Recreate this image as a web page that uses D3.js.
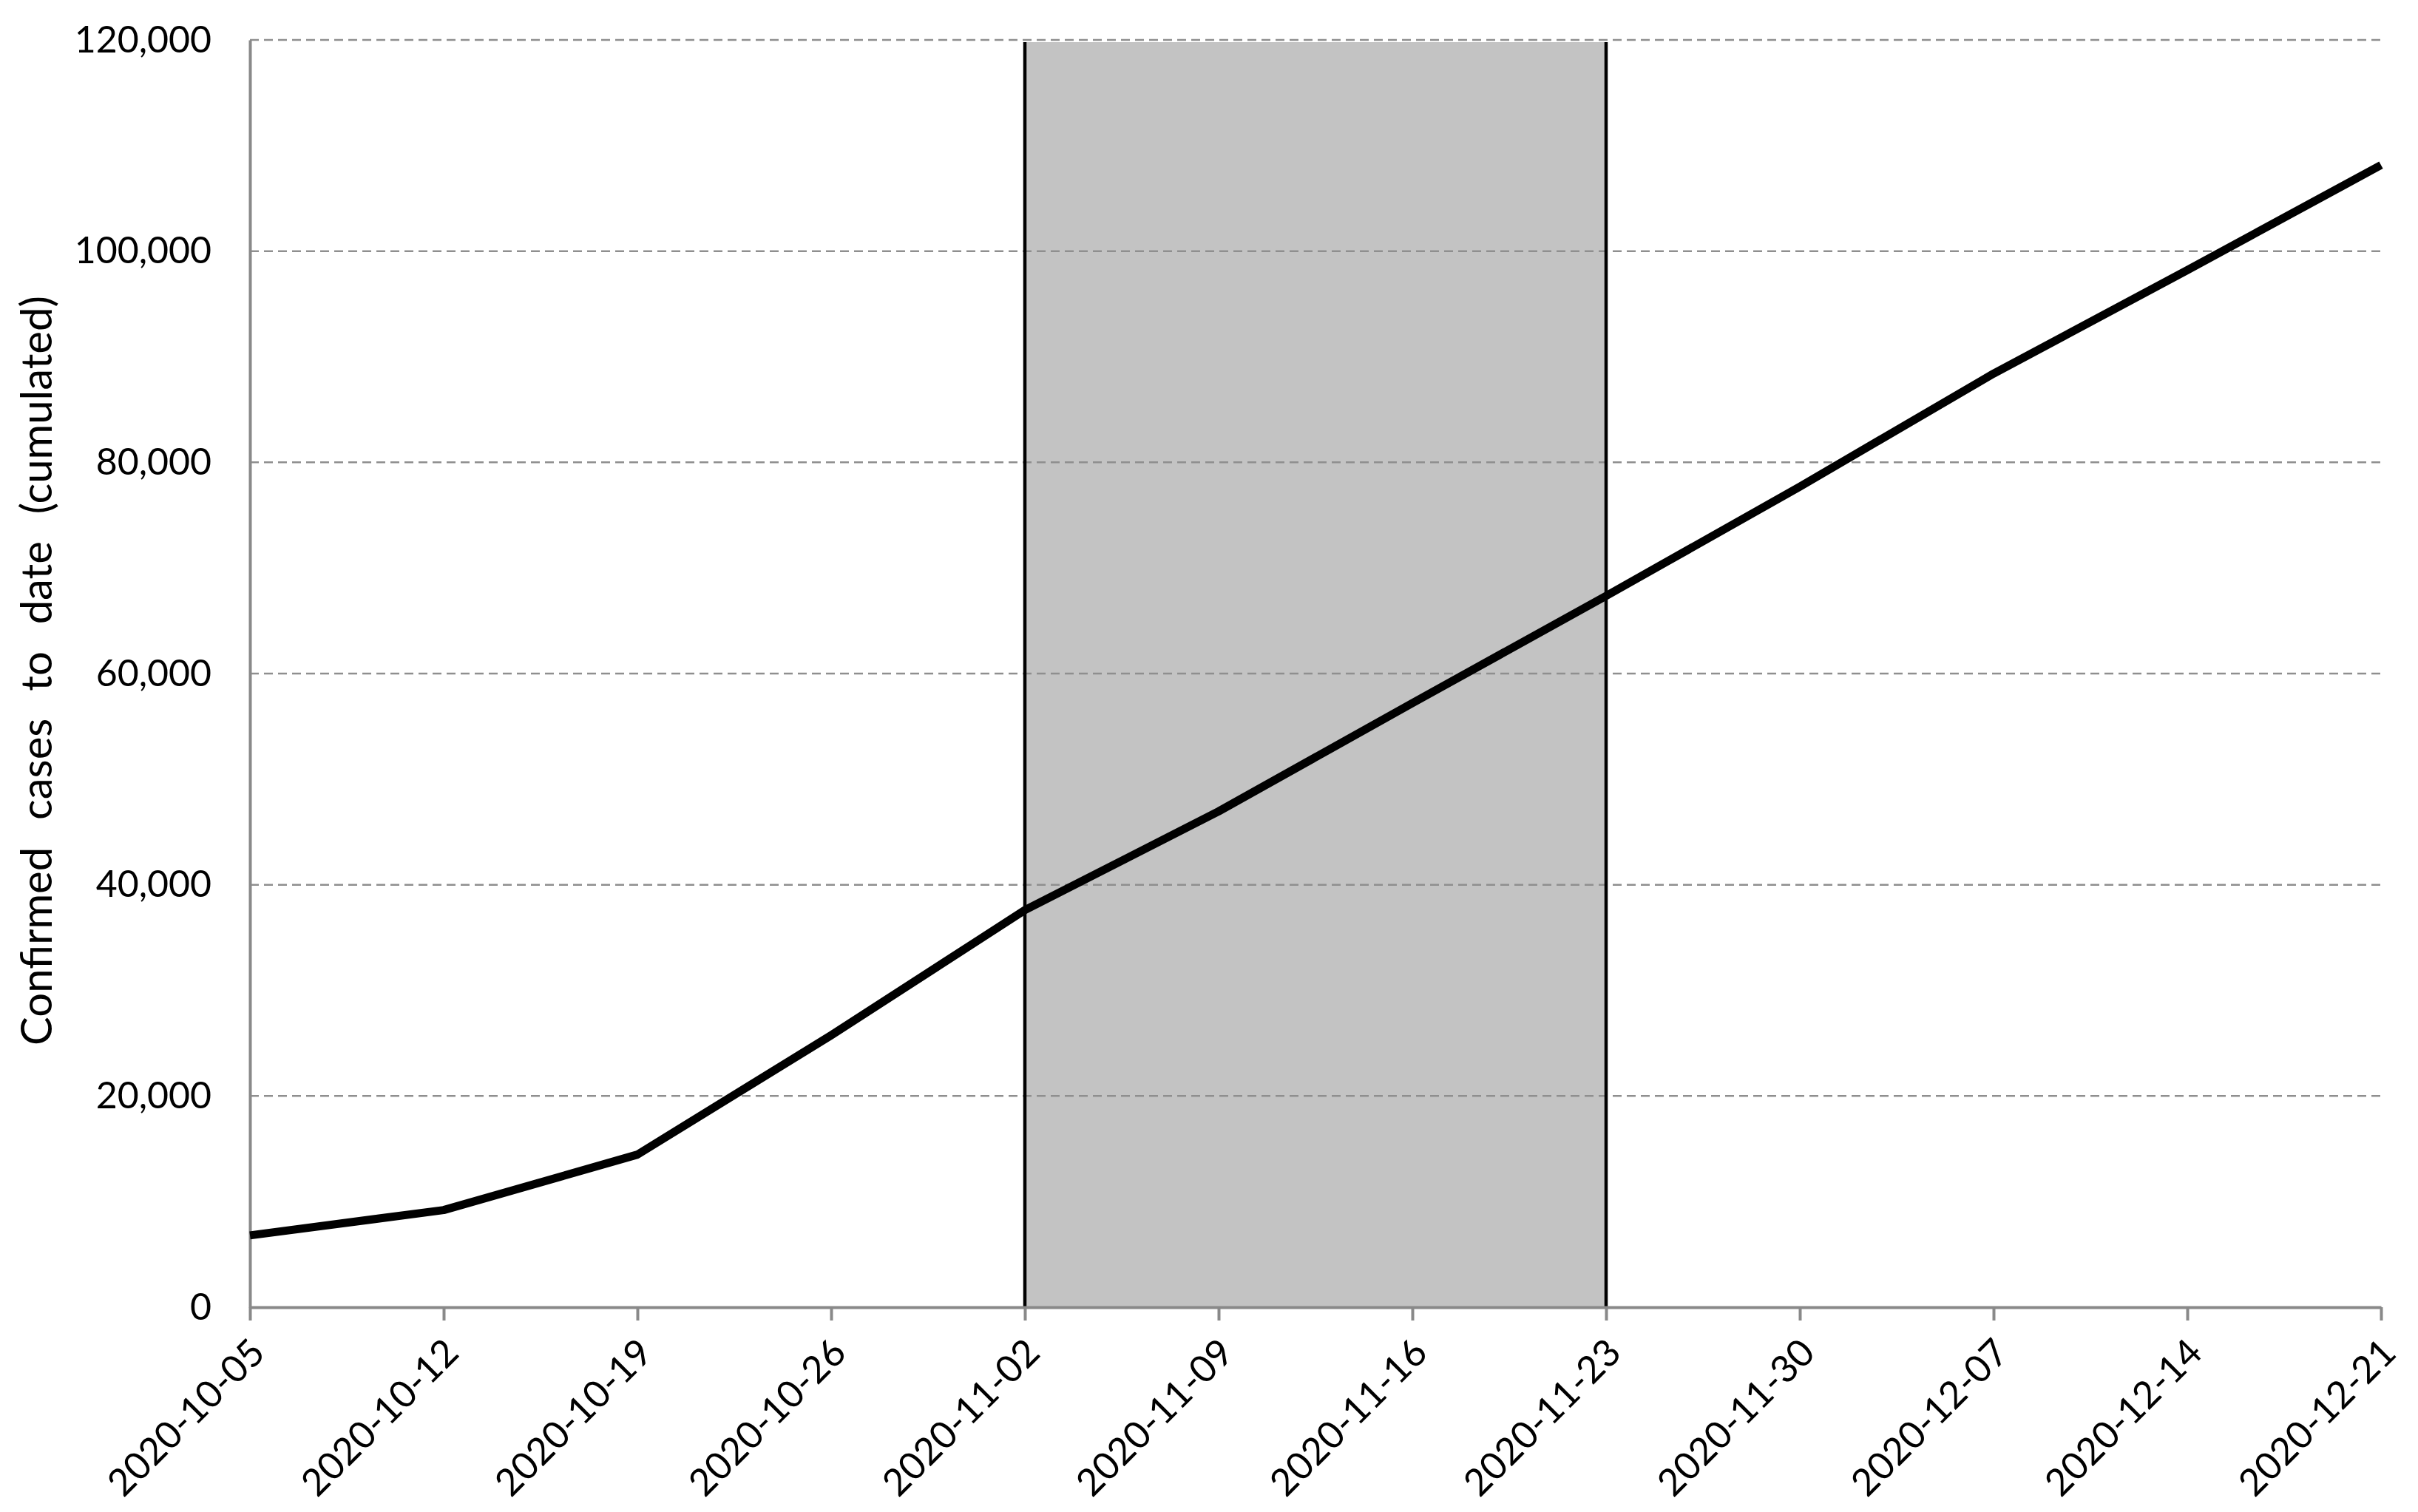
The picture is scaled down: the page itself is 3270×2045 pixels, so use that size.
<!DOCTYPE html>
<html>
<head>
<meta charset="utf-8">
<script src="https://cdn.jsdelivr.net/npm/d3@7"></script>
<style>
  body { margin: 0; background: #fff; }
  text { font-family: Lato, "Open Sans", sans-serif; fill: #000; }
</style>
</head>
<body>
<div id="chart"></div>
<script>
// Data
let dates = ["2020-10-05", "2020-10-12", "2020-10-19", "2020-10-26", "2020-11-02", "2020-11-09",
             "2020-11-16", "2020-11-23", "2020-11-30", "2020-12-07", "2020-12-14", "2020-12-21"];
let cases = [6800, 9200, 14450, 25750, 37600, 46950, 57200, 67350, 77700, 88400, 98200, 108150];
let yTicks = [0, 20000, 40000, 60000, 80000, 100000, 120000];
let shaded = ["2020-11-02", "2020-11-23"];
let yLabel = "Confirmed cases to date (cumulated)";

// Set dimensions
let width = 3270,
    height = 2045,
    margin = {top: 54, right: 50, bottom: 277, left: 338};

let parse = d3.utcParse("%Y-%m-%d");

let svg = d3.select("#chart")
    .append("svg")
        .attr("width", width)
        .attr("height", height);

// Scales
let x = d3.scaleUtc()
    .domain(d3.extent(dates, parse))
    .range([margin.left, width - margin.right]);

let y = d3.scaleLinear()
    .domain([0, 120000])
    .range([height - margin.bottom, margin.top]);

// Shaded period
let x0 = x(parse(shaded[0])), x1 = x(parse(shaded[1]));
svg.append("rect")
    .attr("x", x0)
    .attr("y", y(120000) + 3)
    .attr("width", x1 - x0)
    .attr("height", y(0) - y(120000) - 3)
    .attr("fill", "#c3c3c3");

// Gridlines
svg.append("g")
    .selectAll("line")
    .data(yTicks.filter(d => d > 0))
    .join("line")
        .attr("x1", margin.left)
        .attr("x2", width - margin.right)
        .attr("y1", d => y(d))
        .attr("y2", d => y(d))
        .attr("stroke", "#8f8f8f")
        .attr("stroke-width", 2.5)
        .attr("stroke-dasharray", "12,7");

// Boundaries of the shaded period
svg.append("g")
    .selectAll("line")
    .data(shaded)
    .join("line")
        .attr("x1", d => x(parse(d)))
        .attr("x2", d => x(parse(d)))
        .attr("y1", y(120000) + 3)
        .attr("y2", y(0))
        .attr("stroke", "#000")
        .attr("stroke-width", 4.5);

// Axes
let yAxis = svg.append("g")
    .attr("transform", `translate(${margin.left},0)`)
    .call(d3.axisLeft(y).tickValues(yTicks).tickSize(0).tickPadding(52).tickFormat(d3.format(",")));
yAxis.select(".domain").attr("stroke", "#898989").attr("stroke-width", 4);
yAxis.selectAll("text").attr("font-size", 50).attr("font-family", "Lato");

let xAxis = svg.append("g")
    .attr("transform", `translate(0,${y(0)})`)
    .call(d3.axisBottom(x).tickValues(dates.map(parse)).tickSizeInner(18).tickSizeOuter(0)
        .tickFormat(d3.utcFormat("%Y-%m-%d")));
xAxis.select(".domain").attr("stroke", "#898989").attr("stroke-width", 4);
xAxis.selectAll(".tick line").attr("stroke", "#898989").attr("stroke-width", 4);
xAxis.selectAll("text")
    .attr("font-size", 51)
    .attr("font-family", "Lato")
    .attr("text-anchor", "end")
    .attr("x", 0)
    .attr("y", 0)
    .attr("dy", "0.35em")
    .attr("transform", "translate(10,52) rotate(-45)");

// Line
svg.append("path")
    .datum(dates.map((d, i) => ({date: parse(d), value: cases[i]})))
    .attr("fill", "none")
    .attr("stroke", "#000")
    .attr("stroke-width", 11)
    .attr("stroke-linejoin", "round")
    .attr("d", d3.line().x(d => x(d.date)).y(d => y(d.value)));

// Y label
svg.append("text")
    .attr("transform", `translate(50,${(y(0) + y(120000)) / 2 - 4}) rotate(-90)`)
    .attr("text-anchor", "middle")
    .attr("dy", "0.35em")
    .attr("font-size", 58)
    .attr("word-spacing", 22)
    .text(yLabel);
</script>
</body>
</html>
